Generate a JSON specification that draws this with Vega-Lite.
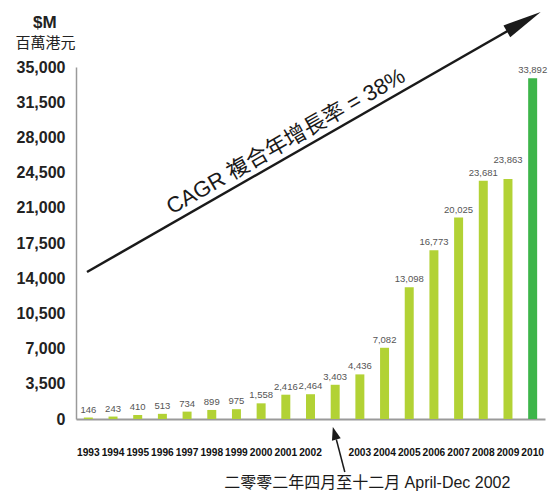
{
  "$schema": "https://vega.github.io/schema/vega-lite/v6.json",
  "width": 469,
  "height": 352,
  "autosize": {"type": "none"},
  "padding": {"left": 76, "top": 67, "right": 11, "bottom": 78},
  "background": "white",
  "title": {"text": "$M", "anchor": "start", "frame": "group", "dx": -43, "dy": 28, "offset": 8, "fontSize": 17, "fontWeight": "bold", "font": "Liberation Sans", "color": "#222222"},
  "datasets": {
    "bars": [
      {"period": "1993", "value": 146},
      {"period": "1994", "value": 243},
      {"period": "1995", "value": 410},
      {"period": "1996", "value": 513},
      {"period": "1997", "value": 734},
      {"period": "1998", "value": 899},
      {"period": "1999", "value": 975},
      {"period": "2000", "value": 1558},
      {"period": "2001", "value": 2416},
      {"period": "2002", "value": 2464},
      {"period": "Apr-Dec 2002", "value": 3403},
      {"period": "2003", "value": 4436},
      {"period": "2004", "value": 7082},
      {"period": "2005", "value": 13098},
      {"period": "2006", "value": 16773},
      {"period": "2007", "value": 20025},
      {"period": "2008", "value": 23681},
      {"period": "2009", "value": 23863},
      {"period": "2010", "value": 33892}
    ]
  },
  "layer": [
    {
      "data": {"name": "bars"},
      "encoding": {
        "x": {
          "field": "period", "type": "nominal", "sort": null,
          "scale": {"paddingInner": 0.636, "paddingOuter": 0.318},
          "axis": {
            "title": null, "labelAngle": 0, "ticks": false,
            "labelExpr": "datum.label == 'Apr-Dec 2002' ? '' : datum.label",
            "labelFont": "Liberation Sans", "labelFontWeight": "bold", "labelFontSize": 10.2,
            "labelColor": "#111111", "labelPadding": 28,
            "domainColor": "#9a9a9a", "domainWidth": 2
          }
        },
        "y": {
          "field": "value", "type": "quantitative",
          "scale": {"domain": [0, 35000], "nice": false},
          "axis": {
            "title": "百萬港元", "titleAngle": 0, "titleAlign": "center", "titleBaseline": "middle",
            "titleX": -31, "titleY": -25, "titleFont": "Noto Sans CJK TC", "titleFontSize": 15,
            "titleFontWeight": "normal", "titleColor": "#222222",
            "values": [0, 3500, 7000, 10500, 14000, 17500, 21000, 24500, 28000, 31500, 35000],
            "format": ",d", "ticks": false, "grid": false,
            "labelFont": "Liberation Sans", "labelFontWeight": "bold", "labelFontSize": 16,
            "labelColor": "#222222", "labelPadding": 11,
            "domainColor": "#9a9a9a", "domainWidth": 1.5
          }
        }
      },
      "layer": [
        {
          "mark": {"type": "bar"},
          "encoding": {
            "color": {"condition": {"test": "datum.period === '2010'", "value": "#3db54a"}, "value": "#b2d235"}
          }
        },
        {
          "transform": [{"filter": "datum.period !== '2009'"}],
          "mark": {"type": "text", "baseline": "bottom", "align": "center", "dy": -3, "font": "Liberation Sans", "fontSize": 9.5, "color": "#555555"},
          "encoding": {
            "text": {"field": "value", "type": "quantitative", "format": ","}
          }
        },
        {
          "transform": [{"filter": "datum.period === '2009'"}],
          "mark": {"type": "text", "baseline": "bottom", "align": "center", "dy": -14, "font": "Liberation Sans", "fontSize": 9.5, "color": "#555555"},
          "encoding": {
            "text": {"field": "value", "type": "quantitative", "format": ","}
          }
        }
      ]
    },
    {
      "layer": [
        {
          "data": {"values": [{"x0": -0.055, "y0": 14616, "x1": 17.27, "y1": 38977}]},
          "mark": {"type": "rule", "color": "#1a1a1a", "strokeWidth": 2.5},
          "encoding": {
            "x": {"field": "x0", "type": "quantitative", "scale": {"domain": [-0.5, 18.5], "nice": false, "zero": false}, "axis": null},
            "x2": {"field": "x1"},
            "y": {"field": "y0", "type": "quantitative", "scale": {"domain": [0, 35000], "nice": false, "zero": false}, "axis": null},
            "y2": {"field": "y1"}
          }
        },
        {
          "data": {"values": [{"x": 18.326, "y": 40468}]},
          "mark": {"type": "point", "shape": "M-2,-0.35 L0,0 L-2,0.35 Z", "filled": true, "size": 1521, "angle": 330.2, "color": "#1a1a1a", "opacity": 1},
          "encoding": {
            "x": {"field": "x", "type": "quantitative", "scale": {"domain": [-0.5, 18.5], "nice": false, "zero": false}, "axis": null},
            "y": {"field": "y", "type": "quantitative", "scale": {"domain": [0, 35000], "nice": false, "zero": false}, "axis": null}
          }
        },
        {
          "data": {"values": [{"x": 8.0, "y": 27592, "label": "CAGR 複合年增長率 = 38%"}]},
          "mark": {"type": "text", "angle": 330.2, "align": "center", "baseline": "middle", "font": "Liberation Sans, Noto Sans CJK TC", "fontSize": 22, "color": "#1a1a1a"},
          "encoding": {
            "x": {"field": "x", "type": "quantitative", "scale": {"domain": [-0.5, 18.5], "nice": false, "zero": false}, "axis": null},
            "y": {"field": "y", "type": "quantitative", "scale": {"domain": [0, 35000], "nice": false, "zero": false}, "axis": null},
            "text": {"field": "label"}
          }
        },
        {
          "data": {"values": [{"x0": 10.39, "y0": -5270, "x1": 10.047, "y1": -2038}]},
          "mark": {"type": "rule", "color": "#1a1a1a", "strokeWidth": 1.5},
          "encoding": {
            "x": {"field": "x0", "type": "quantitative", "scale": {"domain": [-0.5, 18.5], "nice": false, "zero": false}, "axis": null},
            "x2": {"field": "x1"},
            "y": {"field": "y0", "type": "quantitative", "scale": {"domain": [0, 35000], "nice": false, "zero": false}, "axis": null},
            "y2": {"field": "y1"}
          }
        },
        {
          "data": {"values": [{"x": 9.905, "y": -795}]},
          "mark": {"type": "point", "shape": "M-2,-0.7 L0,0 L-2,0.7 Z", "filled": true, "size": 169, "angle": 254.4, "color": "#1a1a1a", "opacity": 1},
          "encoding": {
            "x": {"field": "x", "type": "quantitative", "scale": {"domain": [-0.5, 18.5], "nice": false, "zero": false}, "axis": null},
            "y": {"field": "y", "type": "quantitative", "scale": {"domain": [0, 35000], "nice": false, "zero": false}, "axis": null}
          }
        },
        {
          "data": {"values": [{"x": 11.3, "y": -6364, "label": "二零零二年四月至十二月 April-Dec 2002"}]},
          "mark": {"type": "text", "align": "center", "baseline": "middle", "font": "Liberation Sans, Noto Sans CJK TC", "fontSize": 16, "color": "#1a1a1a"},
          "encoding": {
            "x": {"field": "x", "type": "quantitative", "scale": {"domain": [-0.5, 18.5], "nice": false, "zero": false}, "axis": null},
            "y": {"field": "y", "type": "quantitative", "scale": {"domain": [0, 35000], "nice": false, "zero": false}, "axis": null},
            "text": {"field": "label"}
          }
        }
      ]
    }
  ],
  "resolve": {"scale": {"x": "independent", "y": "independent"}},
  "config": {"view": {"stroke": null}}
}
